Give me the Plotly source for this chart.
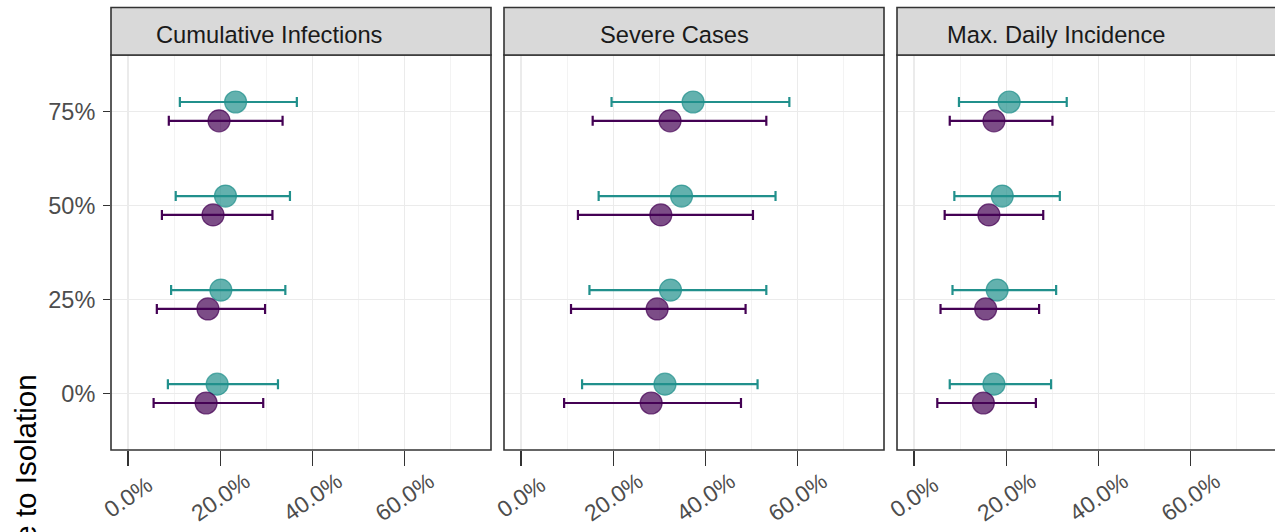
import plotly.graph_objects as go

# ---------------- data ----------------
panels = ["Cumulative Infections", "Severe Cases", "Max. Daily Incidence"]
categories = ["0%", "25%", "50%", "75%"]
x_tick_vals = [0, 20, 40, 60]
x_tick_text = ["0.0%", "20.0%", "40.0%", "60.0%"]

# teal series (upper in each group): estimate, lower, upper  (percent)
teal_est = [
    [19.3, 20.1, 21.1, 23.3],
    [31.2, 32.4, 34.8, 37.3],
    [17.3, 18.0, 19.1, 20.6],
]
teal_lo = [
    [8.6, 9.3, 10.3, 11.2],
    [13.2, 14.8, 16.8, 19.6],
    [7.7, 8.3, 8.7, 9.7],
]
teal_hi = [
    [32.5, 34.1, 35.1, 36.6],
    [51.3, 53.2, 55.2, 58.2],
    [29.7, 30.8, 31.6, 33.1],
]
# purple series (lower in each group)
purple_est = [
    [16.9, 17.3, 18.4, 19.7],
    [28.2, 29.5, 30.3, 32.3],
    [15.0, 15.5, 16.2, 17.3],
]
purple_lo = [
    [5.5, 6.2, 7.3, 8.8],
    [9.3, 10.8, 12.3, 15.5],
    [5.0, 5.7, 6.6, 7.7],
]
purple_hi = [
    [29.3, 29.7, 31.3, 33.5],
    [47.7, 48.7, 50.3, 53.2],
    [26.4, 27.1, 28.0, 30.0],
]

# ---------------- layout geometry ----------------
W, H = 1275, 532
ML, MT, MB, MR = 111, 55, 82, 0
PW = W - ML - MR           # 1164
PH = H - MT - MB           # 395
panel_px = [(111, 491), (504, 884), (897, 1275)]
XMIN, XMAX = -3.75, 78.75
px_per_unit = (panel_px[0][1] - panel_px[0][0]) / (XMAX - XMIN)

TEAL = "33,144,140"
PURPLE = "68,1,84"
FONT = "Liberation Sans, Arial, Helvetica, sans-serif"

fig = go.Figure()
series = [
    ("Group A", TEAL, teal_est, teal_lo, teal_hi, 0.1),
    ("Group B", PURPLE, purple_est, purple_lo, purple_hi, -0.1),
]
ypos = list(range(1, len(categories) + 1))

for p in range(3):
    xa = "x" if p == 0 else f"x{p+1}"
    ya = "y" if p == 0 else f"y{p+1}"
    for name, col, est, lo, hi, dodge in series:
        e = est[p]
        fig.add_trace(go.Scatter(
            x=e,
            y=[v + dodge for v in ypos],
            mode="markers",
            name=name,
            showlegend=False,
            xaxis=xa, yaxis=ya,
            marker=dict(size=22, color=f"rgba({col},0.7)",
                        line=dict(color=f"rgba({col},0.7)", width=1.2)),
            error_x=dict(type="data", symmetric=False,
                         array=[h - m for h, m in zip(hi[p], e)],
                         arrayminus=[m - l for m, l in zip(e, lo[p])],
                         color=f"rgb({col})", thickness=2.2, width=5),
        ))

layout = dict(
    width=W, height=H,
    margin=dict(l=ML, r=MR, t=MT, b=MB, autoexpand=False),
    plot_bgcolor="white", paper_bgcolor="white",
    font=dict(family=FONT, color="#4D4D4D", size=23.5),
    showlegend=False,
)
shapes = []
annotations = []
for p in range(3):
    x0, x1 = panel_px[p]
    d0 = (x0 - ML) / PW
    d1 = (x1 - ML) / PW
    xmax = XMIN + (x1 - x0) / px_per_unit
    key = "xaxis" if p == 0 else f"xaxis{p+1}"
    ykey = "yaxis" if p == 0 else f"yaxis{p+1}"
    xa = "x" if p == 0 else f"x{p+1}"
    ya = "y" if p == 0 else f"y{p+1}"
    layout[key] = dict(
        domain=[d0, d1], range=[XMIN, xmax], anchor=ya,
        tickvals=x_tick_vals, showticklabels=False,
        ticks="outside", ticklen=15, tickwidth=1.6, tickcolor="#333333",
        showgrid=True, gridcolor="#EBEBEB", gridwidth=1.6,
        minor=dict(dtick=20, tick0=10, showgrid=True, gridcolor="#F2F2F2", gridwidth=0.9, ticks=""),
        zeroline=False, showline=False, fixedrange=True,
    )
    layout[ykey] = dict(
        domain=[0, 1], range=[0.4, 4.6], anchor=xa,
        tickvals=ypos, ticktext=categories, showticklabels=(p == 0),
        ticks="outside" if p == 0 else "", ticklen=7, tickwidth=1.6, tickcolor="#333333",
        ticklabelstandoff=3,
        showgrid=True, gridcolor="#EBEBEB", gridwidth=1.6,
        zeroline=False, showline=False, fixedrange=True,
        tickfont=dict(size=23.5, color="#4D4D4D"),
    )
    right = 1.02 if p == 2 else 1
    # panel border
    shapes.append(dict(type="rect", xref=f"{xa} domain", yref=f"{ya} domain",
                       x0=0, x1=right, y0=0, y1=1,
                       line=dict(color="#333333", width=1.6), fillcolor="rgba(0,0,0,0)",
                       layer="above"))
    # strip
    strip_h = (55 - 7.5) / PH
    shapes.append(dict(type="rect", xref=f"{xa} domain", yref=f"{ya} domain",
                       x0=0, x1=right, y0=1, y1=1 + strip_h,
                       line=dict(color="#333333", width=1.6), fillcolor="#D9D9D9",
                       layer="above"))
    text_left = [154, 598, 945][p]
    annotations.append(dict(text=panels[p], xref="paper", yref="paper",
                            x=(text_left - ML) / PW, y=(450 - 35) / PH,
                            xanchor="left", yanchor="middle", showarrow=False,
                            font=dict(size=23.7, color="#1A1A1A", family=FONT)))
    # rotated x tick labels (centered on tick)
    for v, t in zip(x_tick_vals, x_tick_text):
        annotations.append(dict(text=t, xref=xa, yref="paper", x=v,
                                y=-(497 - 450) / PH, xanchor="center", yanchor="middle",
                                textangle=-35, showarrow=False,
                                font=dict(size=23, color="#4D4D4D", family=FONT)))

annotations.append(dict(text="Adherence to Isolation", xref="paper", yref="paper",
                        x=(25 - ML) / PW, y=(450 - 372) / PH,
                        xanchor="center", yanchor="top", textangle=-90, showarrow=False,
                        font=dict(size=29.5, color="black", family=FONT)))

layout["shapes"] = shapes
layout["annotations"] = annotations
fig.update_layout(**layout)
fig.write_html("out.html",
               config={"displayModeBar": False, "staticPlot": True},
               post_script="document.body.style.margin='0';document.body.style.overflow='hidden';")
